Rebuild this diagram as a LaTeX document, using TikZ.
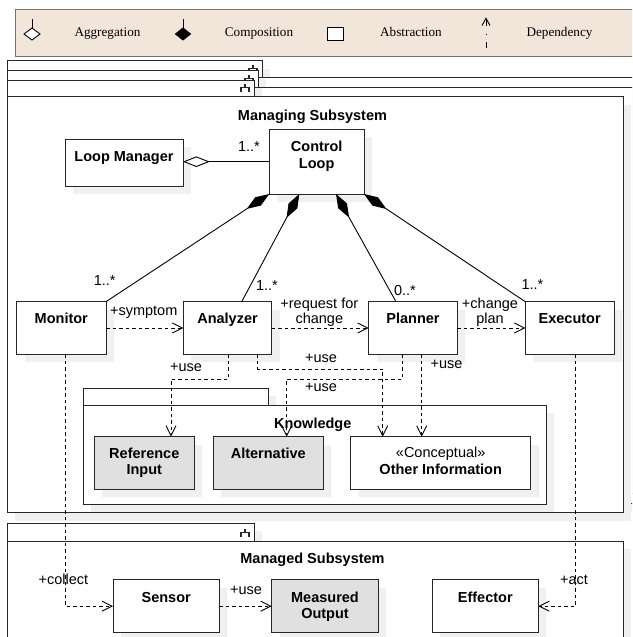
\documentclass[tikz,border=0pt]{standalone}
\usepackage{fontspec}
\setmainfont{Liberation Sans}
\newfontfamily\lserif{Liberation Serif}
\usetikzlibrary{arrows.meta,shadows,calc}
\definecolor{legbg}{RGB}{242,230,218}
\newcommand\pkicon[2]{%
  \draw[icon] (#1,#2) -- (#1,#2+3.5);
  \draw[icon] (#1-4,#2+8) -- (#1-4,#2+3.5) -- (#1+4,#2+3.5) -- (#1+4,#2+8);}
\tikzset{
  sh/.style={general shadow={fill=black!6, shadow xshift=8pt, shadow yshift=-8pt}},
  box/.style={draw=black!85, line width=1pt, fill=white, anchor=north west, inner sep=0pt, outer sep=0pt, sh},
  gbox/.style={box, fill=black!12},
  sz/.style 2 args={minimum width=#1pt, minimum height=#2pt},
  icon/.style={line width=1.1pt, black!85},
  txt/.style={font=\fontsize{14.5}{16}\selectfont, inner sep=0pt, text height=10.4pt, text depth=0pt},
  btxt/.style={font=\fontsize{14.5}{16}\selectfont\bfseries, inner sep=0pt, text height=10.4pt, text depth=0pt},
  mtxt/.style={inner sep=0pt, align=center, anchor=north},
  ltxt/.style={font=\lserif\fontsize{13.2}{15}\selectfont, inner sep=0pt, text height=8.7pt, text depth=0pt},
  comp/.style={line width=0.9pt, -{Diamond[length=27pt,width=10pt]}},
  aggr/.style={line width=0.9pt, -{Diamond[length=26.7pt,width=10.6pt,fill=white]}},
  dep/.style={line width=0.9pt, dash pattern=on 3.5pt off 3pt, -{Straight Barb[length=10pt,width=10pt]}},
}
\begin{document}
\begin{tikzpicture}[x=1pt,y=-1pt]
\useasboundingbox (0,0) rectangle (632,637);
\clip (0,0) rectangle (632,637);
% legend
\node[draw=black!55, line width=1pt, fill=legbg, anchor=north west, inner sep=0pt, outer sep=0pt, sz={640}{47.4}] (legend) at (15.3,9.3) {};
\draw[line width=0.9pt] (32,19) -- (32,28);
\draw[line width=0.9pt, fill=white] (32,28) -- (40,34) -- (32,40) -- (24,34) -- cycle;
\node[ltxt] (l-agg) at (107.5,32.5) {Aggregation};
\draw[line width=0.9pt] (183,19) -- (183,28);
\draw[line width=0.9pt, fill=black] (183,28) -- (190.5,34) -- (183,40) -- (175.5,34) -- cycle;
\node[ltxt] (l-comp) at (259,32.5) {Composition};
\draw[line width=0.9pt, fill=white] (327,27) rectangle (343,40.5);
\node[ltxt] (l-abs) at (411,32.5) {Abstraction};
\draw[line width=0.9pt] (486,18.5) -- (486,26);
\draw[line width=0.9pt] (482,25.5) -- (486,18.3) -- (490,25.5);
\draw[line width=0.9pt] (486,33.5) -- (486,35);
\draw[line width=0.9pt] (486,42) -- (486,48.3);
\node[ltxt] (l-dep) at (559.5,32.5) {Dependency};
% stacked packages
\node[box, sz={255}{16.6}] (tab1) at (7,60.7) {};
\pkicon{253}{64.6}
\node[box, sz={700}{415.7}] (pk1) at (7,77.3) {};
\node[box, sz={251}{16.6}] (tab2) at (7,70.7) {};
\pkicon{249}{74.6}
\node[box, sz={700}{415.7}] (pk2) at (7,87.3) {};
\node[box, sz={247}{16.7}] (tab3) at (7,80) {};
\pkicon{245}{84.3}
\node[box, sz={616.3}{416}] (mgn) at (7,96.7) {};
% managing content
\node[box, sz={118}{46.7}] (lm) at (65,139.3) {};
\node[box, sz={94.7}{64.7}] (ctrl) at (269.3,129.3) {};
\node[box, sz={89.3}{52.6}] (mon) at (16.7,301.7) {};
\node[box, sz={88.4}{52.6}] (ana) at (183.3,301.7) {};
\node[box, sz={88.6}{52.6}] (pla) at (368.7,301.7) {};
\node[box, sz={88.7}{52.6}] (exe) at (525.3,301.7) {};
\node[box, sz={185}{16.7}] (kntab) at (83.3,388.3) {};
\node[box, sz={462.7}{99}] (kn) at (83.3,405) {};
\node[gbox, sz={100}{52.6}] (ref) at (94.3,436.7) {};
\node[gbox, sz={110}{52.6}] (alt) at (213.3,436.7) {};
\node[box, sz={180}{52.6}] (oth) at (350.7,436.7) {};
% managed
\node[box, sz={247}{17.7}] (mdtab) at (7,523.3) {};
\pkicon{245}{529}
\node[box, sz={616.3}{120}] (mgd) at (7,541) {};
\node[box, sz={106.3}{53.4}] (sen) at (113,579.5) {};
\node[gbox, sz={106.6}{53.4}] (mea) at (271.7,579.5) {};
\node[box, sz={106}{53.4}] (eff) at (432.3,579.5) {};
% texts
\node[btxt] (t-ms) at (312.5,115) {Managing Subsystem};
\node[btxt] (t-lm) at (124,156.7) {Loop Manager};
\node[mtxt, font=\fontsize{14.5}{16.7}\selectfont\bfseries] (t-cl) at (316.7,140.8) {Control\\Loop};
\node[btxt] (t-mon) at (61.3,318.3) {Monitor};
\node[btxt] (t-ana) at (227.5,318.3) {Analyzer};
\node[btxt] (t-pla) at (413,318.3) {Planner};
\node[btxt] (t-exe) at (569.7,318.3) {Executor};
\node[btxt] (t-kn) at (312.7,423.3) {Knowledge};
\node[mtxt, font=\fontsize{14.5}{16}\selectfont\bfseries] (t-ref) at (144.3,448.1) {Reference\\Input};
\node[btxt] (t-alt) at (268.3,453.3) {Alternative};
\node[mtxt, font=\fontsize{14.5}{17.6}\selectfont] (t-oth) at (440.7,446.5) {«Conceptual»\\\textbf{Other Information}};
\node[btxt] (t-mgd) at (312.5,558.3) {Managed Subsystem};
\node[btxt] (t-sen) at (166.2,597.3) {Sensor};
\node[mtxt, font=\fontsize{14.5}{15.4}\selectfont\bfseries] (t-mea) at (325,592.1) {Measured\\Output};
\node[btxt] (t-eff) at (485.3,597.3) {Effector};
% multiplicities and roles
\node[txt] (m-lm) at (249,146.7) {1..*};
\node[txt] (m-mon) at (104.7,280.7) {1..*};
\node[txt] (m-ana) at (267,285) {1..*};
\node[txt] (m-pla) at (405,290) {0..*};
\node[txt] (m-exe) at (532.5,284) {1..*};
\node[txt] (r-sym) at (143.7,310.5) {+symptom};
\node[mtxt, font=\fontsize{14.5}{15}\selectfont] (r-req) at (319.3,298.1) {+request for\\change};
\node[mtxt, font=\fontsize{14.5}{15}\selectfont] (r-chg) at (490,297.8) {+change\\plan};
\node[txt] (r-u1) at (186,366.5) {+use};
\node[txt] (r-u2) at (321,357.5) {+use};
\node[txt] (r-u3) at (321,386.5) {+use};
\node[txt] (r-u4) at (446.5,363) {+use};
\node[txt] (r-col) at (63.5,578.8) {+collect};
\node[txt] (r-u5) at (246,588.8) {+use};
\node[txt] (r-act) at (574,578.8) {+act};
% connectors
\draw[aggr] ($(ctrl.north west)+(0,32.4)$) -- ($(lm.north east)+(0,22.4)$);
\draw[comp] (mon.north east) -- (ctrl.south west);
\draw[comp] ($(ana.north west)+(58.4,0)$) -- ($(ctrl.south west)+(30,0)$);
\draw[comp] ($(pla.north west)+(27.3,0)$) -- ($(ctrl.south west)+(66.7,0)$);
\draw[comp] (exe.north west) -- (ctrl.south east);
\draw[dep] (mon.east) -- (ana.west);
\draw[dep] (ana.east) -- (pla.west);
\draw[dep] (pla.east) -- (exe.west);
\draw[dep] ($(ana.south west)+(45.4,0)$) -- ++(0,24.7) -| ($(ref.north west)+(76.7,0)$);
\draw[dep] ($(ana.south east)+(-14,0)$) -- ++(0,14.7) -| ($(oth.north west)+(32,0)$);
\draw[dep] ($(pla.south west)+(34,0)$) -- ++(0,24.7) -| ($(alt.north west)+(73.4,0)$);
\draw[dep] ($(pla.south west)+(53,0)$) -- ($(oth.north west)+(71,0)$);
\draw[dep] ($(mon.south west)+(48.3,0)$) |- ($(sen.north west)+(0,26.7)$);
\draw[dep] ($(sen.north east)+(0,26.7)$) -- ($(mea.north west)+(0,26.7)$);
\draw[dep] ($(exe.south west)+(50.5,0)$) |- ($(eff.north east)+(0,26.7)$);
\end{tikzpicture}
\end{document}
